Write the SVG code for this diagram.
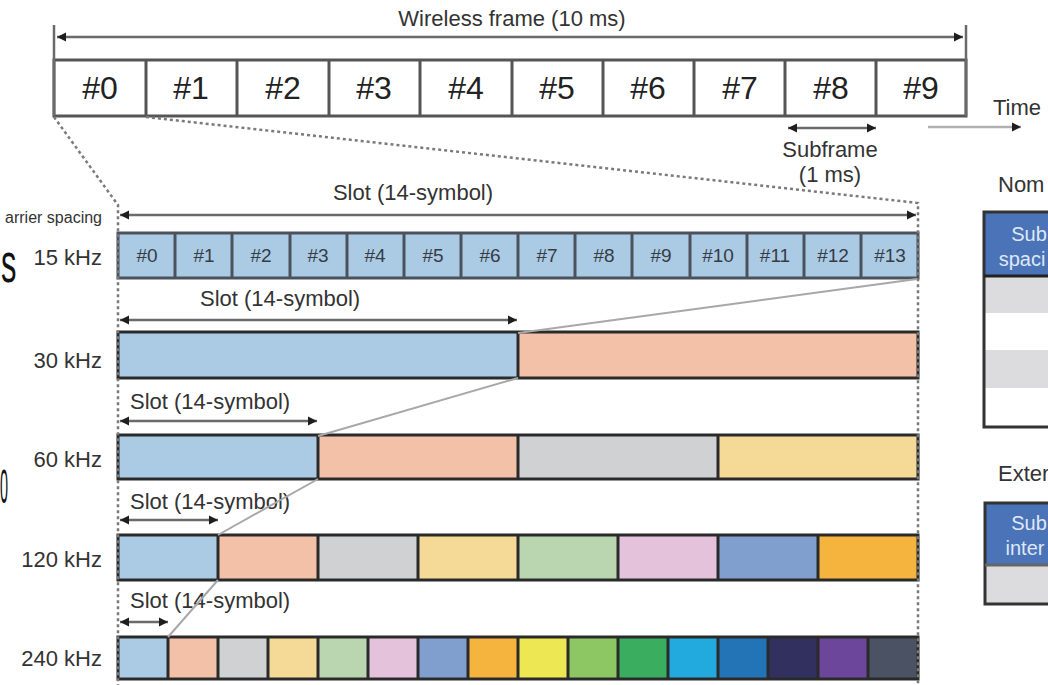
<svg xmlns="http://www.w3.org/2000/svg" width="1048" height="685" viewBox="0 0 1048 685">
  <style>
    text { font-family: "Liberation Sans", Arial, sans-serif; fill: #333; }
    .lbl { font-size: 22px; }
    .big { font-size: 32px; fill: #222; }
    .sym { font-size: 19px; fill: #363b44; text-anchor: middle; }
    .cell { stroke: #555; stroke-width: 3; fill: #fff; }
    .s15 { stroke: #4c525b; stroke-width: 3; fill: #abcbe5; }
    .seg { stroke: #2a2a2a; stroke-width: 3; }
    .dot { stroke: #7a7a7a; stroke-width: 2.5; stroke-dasharray: 3 3; fill: none; }
    .dim { stroke: #6a6a6a; stroke-width: 2.5; fill: none; }
    .link { stroke: #a8a8a8; stroke-width: 2; fill: none; }
    .hdr { fill: #4b73b8; }
    .hdrt { fill: #dfe8f7; font-size: 20px; text-anchor: middle; }
  </style>
  <defs>
    <marker id="ah" markerUnits="userSpaceOnUse" markerWidth="10" markerHeight="10" refX="9" refY="5" orient="auto-start-reverse">
      <path d="M0,0.5 L9,5 L0,9.5 z" fill="#1e1e1e"/>
    </marker>
  </defs>
  <rect width="1048" height="685" fill="#fff"/>

  <!-- text fragments at the left edge (narrowed to stay on the canvas) -->
  <text transform="translate(1,282) scale(0.55,1)" style="font-size:56px;fill:#111">s</text>
  <text transform="translate(0,503) scale(0.3,1)" style="font-size:48px;fill:#111">0</text>

  <!-- wireless frame: ten subframes -->
  <g id="frame">
    <text class="lbl" x="512" y="26" text-anchor="middle">Wireless frame (10 ms)</text>
    <rect class="cell" x="54" y="60" width="912" height="56"/>
    <g stroke="#555" stroke-width="3">
      <line x1="146" y1="60" x2="146" y2="116"/>
      <line x1="237" y1="60" x2="237" y2="116"/>
      <line x1="329" y1="60" x2="329" y2="116"/>
      <line x1="420" y1="60" x2="420" y2="116"/>
      <line x1="512" y1="60" x2="512" y2="116"/>
      <line x1="603" y1="60" x2="603" y2="116"/>
      <line x1="694" y1="60" x2="694" y2="116"/>
      <line x1="785" y1="60" x2="785" y2="116"/>
      <line x1="876" y1="60" x2="876" y2="116"/>
    </g>
    <g class="big" text-anchor="middle">
      <text class="big" x="100" y="99">#0</text>
      <text class="big" x="191" y="99">#1</text>
      <text class="big" x="283" y="99">#2</text>
      <text class="big" x="374" y="99">#3</text>
      <text class="big" x="466" y="99">#4</text>
      <text class="big" x="557" y="99">#5</text>
      <text class="big" x="648" y="99">#6</text>
      <text class="big" x="740" y="99">#7</text>
      <text class="big" x="831" y="99">#8</text>
      <text class="big" x="921" y="99">#9</text>
    </g>
    <text class="lbl" x="993" y="115">Time</text>
    <text class="lbl" x="830" y="157" text-anchor="middle">Subframe</text>
    <text class="lbl" x="830" y="182" text-anchor="middle">(1 ms)</text>
  </g>

  <!-- subcarrier spacing labels -->
  <g id="scs-labels" text-anchor="end">
    <text x="102" y="223" style="font-size:16px">arrier spacing</text>
    <text class="lbl" x="102" y="265">15 kHz</text>
    <text class="lbl" x="102" y="368">30 kHz</text>
    <text class="lbl" x="102" y="467">60 kHz</text>
    <text class="lbl" x="102" y="567">120 kHz</text>
    <text class="lbl" x="102" y="666">240 kHz</text>
  </g>

  <!-- 15 kHz: 14 symbols per slot -->
  <g id="row15">
    <text class="lbl" x="413" y="200" text-anchor="middle">Slot (14-symbol)</text>
    <rect class="s15" x="118" y="233" width="800" height="45"/>
    <g stroke="#4c525b" stroke-width="3">
      <line x1="175" y1="233" x2="175" y2="278"/>
      <line x1="232" y1="233" x2="232" y2="278"/>
      <line x1="290" y1="233" x2="290" y2="278"/>
      <line x1="347" y1="233" x2="347" y2="278"/>
      <line x1="404" y1="233" x2="404" y2="278"/>
      <line x1="461" y1="233" x2="461" y2="278"/>
      <line x1="518" y1="233" x2="518" y2="278"/>
      <line x1="575" y1="233" x2="575" y2="278"/>
      <line x1="632" y1="233" x2="632" y2="278"/>
      <line x1="690" y1="233" x2="690" y2="278"/>
      <line x1="747" y1="233" x2="747" y2="278"/>
      <line x1="804" y1="233" x2="804" y2="278"/>
      <line x1="861" y1="233" x2="861" y2="278"/>
    </g>
    <text class="sym" x="147" y="262">#0</text>
    <text class="sym" x="204" y="262">#1</text>
    <text class="sym" x="261" y="262">#2</text>
    <text class="sym" x="318" y="262">#3</text>
    <text class="sym" x="375" y="262">#4</text>
    <text class="sym" x="433" y="262">#5</text>
    <text class="sym" x="490" y="262">#6</text>
    <text class="sym" x="547" y="262">#7</text>
    <text class="sym" x="604" y="262">#8</text>
    <text class="sym" x="661" y="262">#9</text>
    <text class="sym" x="718" y="262">#10</text>
    <text class="sym" x="775" y="262">#11</text>
    <text class="sym" x="833" y="262">#12</text>
    <text class="sym" x="890" y="262">#13</text>
  </g>

  <!-- 30 kHz: 2 slots -->
  <g id="row30">
    <text class="lbl" x="200" y="306">Slot (14-symbol)</text>
    <rect x="118" y="332" width="400" height="46" fill="#abcbe5"/>
    <rect x="518" y="332" width="400" height="46" fill="#f2c1a7"/>
    <rect class="seg" x="118" y="332" width="800" height="46" fill="none"/>
    <line class="seg" x1="518" y1="332" x2="518" y2="378"/>
  </g>

  <!-- 60 kHz: 4 slots -->
  <g id="row60">
    <text class="lbl" x="130" y="409">Slot (14-symbol)</text>
    <rect x="118" y="435" width="200" height="44" fill="#abcbe5"/>
    <rect x="318" y="435" width="200" height="44" fill="#f2c1a7"/>
    <rect x="518" y="435" width="200" height="44" fill="#d0d1d3"/>
    <rect x="718" y="435" width="200" height="44" fill="#f5d997"/>
    <rect class="seg" x="118" y="435" width="800" height="44" fill="none"/>
    <g class="seg">
      <line x1="318" y1="435" x2="318" y2="479"/>
      <line x1="518" y1="435" x2="518" y2="479"/>
      <line x1="718" y1="435" x2="718" y2="479"/>
    </g>
  </g>

  <!-- 120 kHz: 8 slots -->
  <g id="row120">
    <text class="lbl" x="130" y="509">Slot (14-symbol)</text>
    <rect x="118" y="535" width="100" height="45" fill="#abcbe5"/>
    <rect x="218" y="535" width="100" height="45" fill="#f2c1a7"/>
    <rect x="318" y="535" width="100" height="45" fill="#d0d1d3"/>
    <rect x="418" y="535" width="100" height="45" fill="#f5d997"/>
    <rect x="518" y="535" width="100" height="45" fill="#b9d6b0"/>
    <rect x="618" y="535" width="100" height="45" fill="#e4c2db"/>
    <rect x="718" y="535" width="100" height="45" fill="#809fcf"/>
    <rect x="818" y="535" width="100" height="45" fill="#f5b43e"/>
    <rect class="seg" x="118" y="535" width="800" height="45" fill="none" stroke="#3a3a3a"/>
    <g class="seg" stroke="#3a3a3a">
      <line x1="218" y1="535" x2="218" y2="580"/>
      <line x1="318" y1="535" x2="318" y2="580"/>
      <line x1="418" y1="535" x2="418" y2="580"/>
      <line x1="518" y1="535" x2="518" y2="580"/>
      <line x1="618" y1="535" x2="618" y2="580"/>
      <line x1="718" y1="535" x2="718" y2="580"/>
      <line x1="818" y1="535" x2="818" y2="580"/>
    </g>
  </g>

  <!-- 240 kHz: 16 slots -->
  <g id="row240">
    <text class="lbl" x="130" y="608">Slot (14-symbol)</text>
    <rect x="118" y="637" width="50" height="42" fill="#abcbe5"/>
    <rect x="168" y="637" width="50" height="42" fill="#f2c1a7"/>
    <rect x="218" y="637" width="50" height="42" fill="#d0d1d3"/>
    <rect x="268" y="637" width="50" height="42" fill="#f5d997"/>
    <rect x="318" y="637" width="50" height="42" fill="#b9d6b0"/>
    <rect x="368" y="637" width="50" height="42" fill="#e4c2db"/>
    <rect x="418" y="637" width="50" height="42" fill="#809fcf"/>
    <rect x="468" y="637" width="50" height="42" fill="#f5b43e"/>
    <rect x="518" y="637" width="50" height="42" fill="#ece752"/>
    <rect x="568" y="637" width="50" height="42" fill="#8dc764"/>
    <rect x="618" y="637" width="50" height="42" fill="#3aae5e"/>
    <rect x="668" y="637" width="50" height="42" fill="#22a9de"/>
    <rect x="718" y="637" width="50" height="42" fill="#2374b6"/>
    <rect x="768" y="637" width="50" height="42" fill="#31305e"/>
    <rect x="818" y="637" width="50" height="42" fill="#6c469b"/>
    <rect x="868" y="637" width="50" height="42" fill="#4a5263"/>
    <rect class="seg" x="118" y="637" width="800" height="42" fill="none"/>
    <g class="seg">
      <line x1="168" y1="637" x2="168" y2="679"/>
      <line x1="218" y1="637" x2="218" y2="679"/>
      <line x1="268" y1="637" x2="268" y2="679"/>
      <line x1="318" y1="637" x2="318" y2="679"/>
      <line x1="368" y1="637" x2="368" y2="679"/>
      <line x1="418" y1="637" x2="418" y2="679"/>
      <line x1="468" y1="637" x2="468" y2="679"/>
      <line x1="518" y1="637" x2="518" y2="679"/>
      <line x1="568" y1="637" x2="568" y2="679"/>
      <line x1="618" y1="637" x2="618" y2="679"/>
      <line x1="668" y1="637" x2="668" y2="679"/>
      <line x1="718" y1="637" x2="718" y2="679"/>
      <line x1="768" y1="637" x2="768" y2="679"/>
      <line x1="818" y1="637" x2="818" y2="679"/>
      <line x1="868" y1="637" x2="868" y2="679"/>
    </g>
  </g>

  <!-- tables on the right -->
  <g id="table-normal">
    <text class="lbl" x="998" y="192">Nom</text>
    <rect x="983" y="212" width="70" height="64" class="hdr"/>
    <rect x="983" y="277" width="70" height="36" fill="#dcdcde"/>
    <rect x="983" y="350" width="70" height="38" fill="#dcdcde"/>
    <path d="M1050,212 H984 V427 H1050" fill="none" stroke="#333" stroke-width="3"/>
    <line x1="984" y1="276" x2="1050" y2="276" stroke="#222" stroke-width="3"/>
    <text class="hdrt" x="1029" y="241">Sub</text>
    <text class="hdrt" x="1022" y="266">spaci</text>
  </g>
  <g id="table-extended">
    <text class="lbl" x="998" y="481">Exter</text>
    <rect x="984" y="502" width="70" height="63" class="hdr"/>
    <rect x="984" y="566" width="70" height="37" fill="#dcdcde"/>
    <path d="M1050,503 H985 V604 H1050" fill="none" stroke="#333" stroke-width="3"/>
    <line x1="985" y1="565" x2="1050" y2="565" stroke="#666" stroke-width="3"/>
    <text class="hdrt" x="1029" y="530">Sub</text>
    <text class="hdrt" x="1025" y="555">inter</text>
  </g>

  <!-- connectors: dimension arrows, zoom guides, slot links -->
  <g id="connectors">
    <line class="dim" x1="54" y1="25" x2="54" y2="116" stroke="#8a8a8a"/>
    <line class="dim" x1="966" y1="25" x2="966" y2="116" stroke="#8a8a8a"/>
    <line class="dim" x1="57" y1="37" x2="963" y2="37" marker-start="url(#ah)" marker-end="url(#ah)"/>
    <line class="dim" x1="788" y1="128" x2="876" y2="128" marker-start="url(#ah)" marker-end="url(#ah)"/>
    <line x1="928" y1="127" x2="1021" y2="127" stroke="#b0b0b0" stroke-width="2.5" marker-end="url(#ah)"/>

    <path class="dot" d="M54,117 L118,205 V685"/>
    <path class="dot" d="M146,117 L918,203 V685"/>

    <line class="dim" x1="120" y1="215" x2="916" y2="215" marker-start="url(#ah)" marker-end="url(#ah)"/>
    <line class="dim" x1="120" y1="320" x2="517" y2="320" marker-start="url(#ah)" marker-end="url(#ah)"/>
    <line class="dim" x1="120" y1="421" x2="317" y2="421" marker-start="url(#ah)" marker-end="url(#ah)"/>
    <line class="dim" x1="120" y1="520" x2="218" y2="520" stroke="#b5b5b5" marker-start="url(#ah)" marker-end="url(#ah)"/>
    <line class="dim" x1="120" y1="622" x2="168" y2="622" marker-start="url(#ah)" marker-end="url(#ah)"/>

    <line class="link" x1="917" y1="279" x2="518" y2="333"/>
    <line class="link" x1="518" y1="378" x2="318" y2="436"/>
    <line class="link" x1="318" y1="479" x2="218" y2="535"/>
    <line class="link" x1="218" y1="580" x2="168" y2="637"/>
  </g>
</svg>
